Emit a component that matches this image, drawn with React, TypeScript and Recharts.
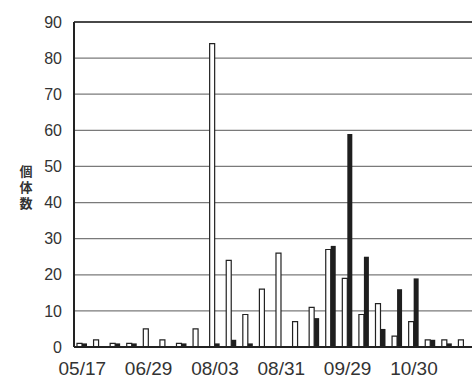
import { Bar, BarChart, CartesianGrid, Label, ReferenceLine, XAxis, YAxis } from "recharts";

// sampling rounds (24 of them), only every 4th carries a date label
const tickLabels = ["05/17", "06/29", "08/03", "08/31", "09/29", "10/30"];
const tickIdx = [0, 4, 8, 12, 16, 20];
const yTicks = [0, 10, 20, 30, 40, 50, 60, 70, 80, 90];

const whiteSeries = [1, 2, 1, 1, 5, 2, 1, 5, 84, 24, 9, 16, 26, 7, 11, 27, 19, 9, 12, 3, 7, 2, 2, 2];
const blackSeries = [1, 0, 1, 1, 0, 0, 1, 0, 1, 2, 1, 0, 0, 0, 8, 28, 59, 25, 5, 16, 19, 2, 1, 0];

const data = whiteSeries.map((v, i) => ({
  idx: i,
  white: v,
  black: blackSeries[i],
}));

const font = '"Liberation Sans", Arial, sans-serif';

// upright vertical title, one text node
function VerticalLabel({ viewBox }: any) {
  const cx = viewBox.x + 26;
  const cy = viewBox.y + viewBox.height / 2 + 4;
  return (
    <text
      x={cx}
      y={cy}
      textAnchor="middle"
      fontSize={13}
      fontWeight="bold"
      fill="#333"
      letterSpacing={3}
      fontFamily='"Noto Sans CJK JP", sans-serif'
      style={{ writingMode: "vertical-rl", textOrientation: "upright" } as any}
    >
      個体数
    </text>
  );
}

export default function App() {
  return (
    <div style={{ position: "absolute", left: 0, top: 0, background: "#fff" }}>
      <BarChart
        width={473}
        height={379}
        data={data}
        margin={{ top: 22, right: 1, left: 0, bottom: 0 }}
        barCategoryGap="18%"
        barGap={0}
      >
        <CartesianGrid vertical={false} stroke="#7a7a7a" strokeWidth={1.2} />
        <XAxis
          dataKey="idx"
          ticks={tickIdx}
          interval={0}
          tickFormatter={(v) => tickLabels[tickIdx.indexOf(v)] ?? ""}
          tickSize={0}
          tickMargin={15}
          height={32}
          axisLine={{ stroke: "#222", strokeWidth: 2 }}
          tick={{ fill: "#333", fontSize: 19, fontFamily: font }}
        />
        <YAxis
          domain={[0, 90]}
          ticks={yTicks}
          interval={0}
          width={74}
          tickSize={0}
          tickMargin={12}
          axisLine={{ stroke: "#222", strokeWidth: 2 }}
          tick={{ fill: "#333", fontSize: 16, fontFamily: font }}
        >
          <Label content={VerticalLabel} />
        </YAxis>
        <YAxis
          yAxisId="right"
          orientation="right"
          domain={[0, 90]}
          width={0}
          tick={false}
          tickLine={false}
          axisLine={{ stroke: "#222", strokeWidth: 1.5 }}
        />
        <ReferenceLine y={90} stroke="#222" strokeWidth={1.5} />
        <Bar dataKey="white" fill="#fff" stroke="#222" strokeWidth={1.2} isAnimationActive={false} />
        <Bar dataKey="black" fill="#1e1e1e" isAnimationActive={false} />
      </BarChart>
    </div>
  );
}
